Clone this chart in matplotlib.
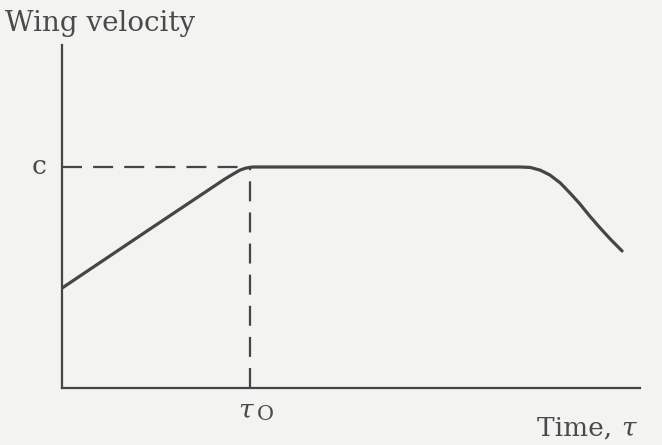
import matplotlib
matplotlib.use("Agg")
import matplotlib.pyplot as plt

# Wing velocity history: linear acceleration up to the cruise speed c at tau_0,
# constant speed, then deceleration at the end of the stroke.
time = [0.0, 0.152, 0.282, 0.296, 0.308, 0.318, 0.330, 0.585, 0.792,
        0.810, 0.827, 0.844, 0.862, 0.879, 0.896, 0.913, 0.931, 0.950, 0.969]
velocity = [0.452, 0.719, 0.946, 0.968, 0.986, 0.995, 1.0, 1.0, 1.0,
            0.998, 0.986, 0.964, 0.928, 0.882, 0.833, 0.778, 0.724, 0.670, 0.620]
tau0 = 0.325
c_level = 1.0

ink = "#454545"
text_col = "#4a4a4a"
bg = "#f3f3f2"

fig = plt.figure(figsize=(6.62, 4.45), dpi=100, facecolor=bg)
ax = fig.add_axes([62 / 662, 57 / 445, 578 / 662, 343 / 445], facecolor=bg)
ax.set_xlim(0, 1)
ax.set_ylim(0, 1.552)

ax.plot(time, velocity, color=ink, lw=2.3, solid_capstyle="round",
        solid_joinstyle="round", zorder=3)

# Reference lines for c and tau_0
ax.plot([0, tau0], [c_level, c_level], color=ink, lw=1.6,
        dashes=(9, 5), zorder=2)
ax.plot([tau0, tau0], [0, c_level], color=ink, lw=1.6,
        dashes=(9, 5), zorder=2)

for side in ("top", "right"):
    ax.spines[side].set_visible(False)
for side in ("left", "bottom"):
    ax.spines[side].set_color(ink)
    ax.spines[side].set_linewidth(1.6)
ax.set_xticks([])
ax.set_yticks([])

font = dict(family="DejaVu Serif", color=text_col)
fig.text(5 / 662, 1 - 31 / 445, "Wing velocity", fontsize=20, **font,
         ha="left", va="baseline")
ax.text(-0.04, c_level, "c", fontsize=19, ha="center", va="center", **font)
ax.text(tau0 - 0.008, -0.045, "τ", fontsize=19, style="italic",
        ha="center", va="top", **font)
ax.text(tau0 + 0.012, -0.075, "O", fontsize=15, ha="left", va="top", **font)
fig.text(537 / 662, 1 - 436 / 445, "Time, ", fontsize=19, ha="left",
         va="baseline", **font)
fig.text(636 / 662, 1 - 436 / 445, "τ", fontsize=19, style="italic",
         ha="right", va="baseline", **font)

fig.savefig("out.png", dpi=100, facecolor=bg)
